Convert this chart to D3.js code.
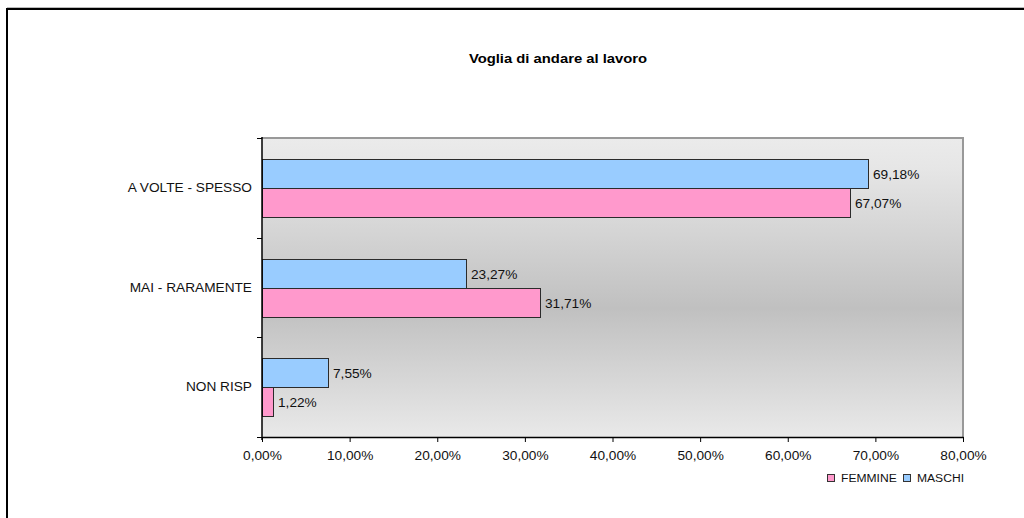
<!DOCTYPE html>
<html><head><meta charset="utf-8">
<script src="https://cdn.jsdelivr.net/npm/d3@7"></script>
<style>
html,body{margin:0;padding:0;background:#fff;}
svg{display:block;font-family:Arial,"Liberation Sans",sans-serif;}
</style></head>
<body>
<svg id="chart" width="1024" height="518"></svg>
<script>
const title = "Voglia di andare al lavoro";
const categories = ["A VOLTE - SPESSO", "MAI - RARAMENTE", "NON RISP"];
const seriesNames = ["MASCHI", "FEMMINE"];
const maschi = [69.18, 23.27, 7.55];
const femmine = [67.07, 31.71, 1.22];
const xTicks = [0, 10, 20, 30, 40, 50, 60, 70, 80];
const legendOrder = ["FEMMINE", "MASCHI"];
const colors = {MASCHI: "#99ccff", FEMMINE: "#ff99cc"};

const fmt = v => v.toFixed(2).replace(".", ",") + "%";
const SX = 1.14;

const svg = d3.select("#chart");
const L = 262, R = 963, T = 138, B = 437;

// outer frame
svg.append("line").attr("x1", 7).attr("x2", 1024).attr("y1", 7.5).attr("y2", 7.5).attr("stroke", "#bbb").attr("stroke-width", 1);
svg.append("path").attr("d", "M7,518V9H1024").attr("fill", "none").attr("stroke", "#000").attr("stroke-width", 2);

// gradient
const defs = svg.append("defs");
const g = defs.append("linearGradient").attr("id", "bg").attr("x1", 0).attr("x2", 0).attr("y1", 0).attr("y2", 1);
g.append("stop").attr("offset", "0%").attr("stop-color", "#ebebeb");
g.append("stop").attr("offset", "10%").attr("stop-color", "#e6e6e6");
g.append("stop").attr("offset", "57%").attr("stop-color", "#c0c0c0");
g.append("stop").attr("offset", "100%").attr("stop-color", "#e9e9e9");

const x = d3.scaleLinear().domain([0, 80]).range([L, R]);
const y = d3.scaleBand().domain(categories).range([T, B]).paddingInner(0).paddingOuter(0);
const ys = d3.scaleBand().domain(seriesNames).range([0, y.bandwidth()]).paddingInner(0).paddingOuter(0.72);

svg.append("rect").attr("x", L).attr("y", T).attr("width", R - L).attr("height", B - T).attr("fill", "url(#bg)");
// plot border (top, right)
svg.append("path").attr("d", `M${L},${T}H${R}V${B}`).attr("fill", "none").attr("stroke", "#999").attr("stroke-width", 2);

// title
svg.append("text").attr("transform", `translate(558,63) scale(${SX},1)`).attr("text-anchor", "middle")
  .attr("font-size", 13).attr("font-weight", "bold").attr("fill", "#000").text(title);

// bars
const data = categories.map((c, i) => ({c, MASCHI: maschi[i], FEMMINE: femmine[i]}));
const grp = svg.append("g");
data.forEach(d => {
  seriesNames.forEach(s => {
    const y0 = Math.round(y(d.c) + ys(s)) + 0.5;
    const h = Math.round(ys.bandwidth());
    const w = Math.round(x(d[s]) - x(0));
    grp.append("rect").attr("x", x(0) + 0.5).attr("y", y0).attr("width", Math.max(w, 1)).attr("height", h)
      .attr("fill", colors[s]).attr("stroke", "#2b2b2b").attr("stroke-width", 1);
    grp.append("text").attr("transform", `translate(${x(0) + w + 5},${y0 + h / 2 + 4.5}) scale(${SX},1)`)
      .attr("font-size", 12).attr("fill", "#111").text(fmt(d[s]));
  });
});

// x axis
const xAxis = d3.axisBottom(x).tickValues(xTicks).tickSize(5).tickSizeOuter(0).tickPadding(9).tickFormat(fmt);
const xa = svg.append("g").attr("transform", `translate(0,${B})`).call(xAxis);
xa.select(".domain").attr("stroke", "#000").attr("stroke-width", 1.5);
xa.selectAll(".tick line").attr("stroke", "#000");
xa.selectAll(".tick text").attr("font-size", 12).attr("font-family", "Arial, 'Liberation Sans', sans-serif")
  .attr("fill", "#111").attr("transform", `scale(${SX},1)`);

// y axis (ticks at band boundaries)
const bounds = categories.map(c => y(c)).concat([y.range()[1]]);
svg.append("line").attr("x1", L).attr("x2", L).attr("y1", T - 1).attr("y2", B + 3).attr("stroke", "#000").attr("stroke-width", 1.5);
svg.selectAll(".ytick").data(bounds).enter().append("line")
  .attr("x1", L - 5).attr("x2", L).attr("y1", d => Math.round(d) + 0.5).attr("y2", d => Math.round(d) + 0.5)
  .attr("stroke", "#000");
svg.selectAll(".ylab").data(categories).enter().append("text")
  .attr("transform", d => `translate(252,${y(d) + y.bandwidth() / 2 + 4}) scale(${SX},1)`)
  .attr("text-anchor", "end").attr("font-size", 12).attr("fill", "#111").text(d => d);

// legend
const legX = [827, 903];
legendOrder.forEach((s, i) => {
  svg.append("rect").attr("x", legX[i] + 0.5).attr("y", 474.5).attr("width", 7).attr("height", 7)
    .attr("fill", colors[s]).attr("stroke", "#333").attr("stroke-width", 1);
  svg.append("text").attr("transform", `translate(${legX[i] + 14},481.5) scale(1.1,1)`)
    .attr("font-size", 11).attr("fill", "#111").text(s);
});
</script>
</body></html>
